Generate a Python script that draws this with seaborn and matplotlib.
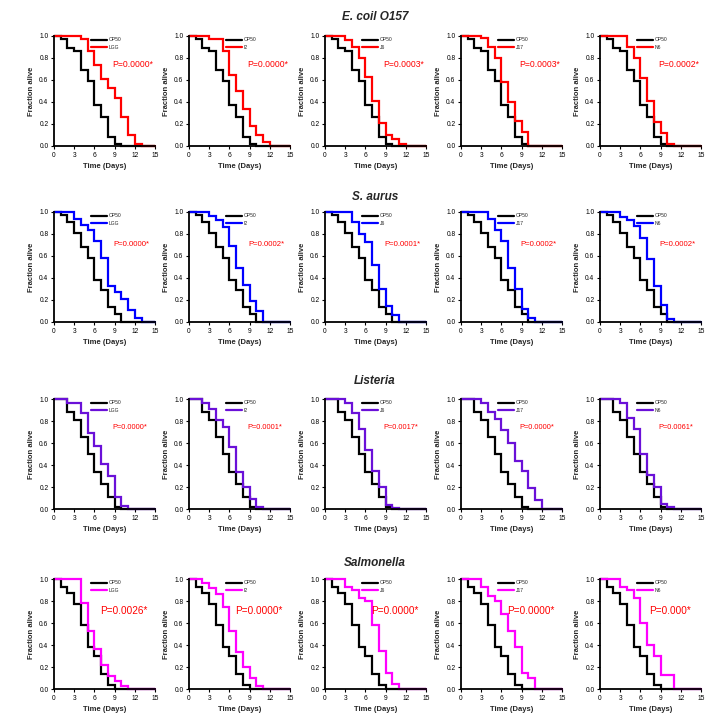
import numpy as np
import pandas as pd
import seaborn as sns
import matplotlib.pyplot as plt
from matplotlib.lines import Line2D

# ---- data (days at which survival drops, fraction alive after drop)
pathogens = ["E. coil O157", "S. aurus", "Listeria", "Salmonella"]
strains = ["LGG", "I2", "J6", "J17", "N6"]
row_colors = ["#ff0000", "#0000ff", "#6a10d8", "#ff00ff"]

op50_days = [
    [1, 2, 3, 4, 5, 6, 7, 8, 9, 10],
    [1, 2, 3, 4, 5, 6, 7, 8, 9, 10],
    [2, 3, 4, 5, 6, 7, 8, 9, 10],
    [1, 2, 3, 4, 5, 6, 7, 8, 9],
]
op50_surv = [
    [0.97, 0.89, 0.86, 0.69, 0.59, 0.37, 0.26, 0.085, 0.015, 0],
    [0.97, 0.905, 0.81, 0.68, 0.58, 0.385, 0.29, 0.14, 0.076, 0],
    [0.88, 0.81, 0.655, 0.5, 0.34, 0.23, 0.11, 0.02, 0],
    [0.93, 0.87, 0.77, 0.58, 0.38, 0.3, 0.14, 0.04, 0],
]

ecoli_days = [
    [4, 5, 6, 7, 8, 9, 10, 11, 12, 13],
    [3, 5, 6, 7, 8, 9, 10, 11, 12],
    [3, 4, 5, 6, 7, 8, 9, 10, 11, 12],
    [3, 4, 5, 6, 7, 8, 9, 10],
    [4, 5, 6, 7, 8, 9, 10, 11],
]
ecoli_surv = [
    [0.97, 0.86, 0.74, 0.61, 0.53, 0.44, 0.26, 0.1, 0.02, 0],
    [0.97, 0.86, 0.65, 0.5, 0.34, 0.18, 0.1, 0.04, 0],
    [0.96, 0.9, 0.8, 0.63, 0.41, 0.21, 0.1, 0.06, 0.015, 0],
    [0.98, 0.9, 0.8, 0.58, 0.4, 0.23, 0.13, 0],
    [0.9, 0.8, 0.62, 0.41, 0.22, 0.12, 0.015, 0],
]
saur_days = [
    [3, 4, 5, 6, 7, 8, 9, 10, 11, 12, 13],
    [3, 4, 5, 6, 7, 8, 9, 10, 11],
    [4, 5, 6, 7, 8, 9, 10, 11],
    [4, 5, 6, 7, 8, 9, 10, 11],
    [3, 4, 5, 6, 7, 8, 9, 10, 11],
]
saur_surv = [
    [0.94, 0.88, 0.84, 0.74, 0.58, 0.33, 0.27, 0.21, 0.11, 0.035, 0],
    [0.96, 0.93, 0.86, 0.69, 0.49, 0.34, 0.19, 0.1, 0],
    [0.905, 0.8, 0.73, 0.52, 0.3, 0.15, 0.06, 0],
    [0.94, 0.84, 0.74, 0.49, 0.3, 0.115, 0.035, 0],
    [0.955, 0.93, 0.87, 0.765, 0.57, 0.33, 0.155, 0.03, 0],
]
list_days = [
    [2, 4, 5, 6, 7, 8, 9, 10, 11],
    [2, 3, 4, 5, 6, 7, 8, 9, 10, 11],
    [3, 4, 5, 6, 7, 8, 9, 10, 11],
    [3, 4, 5, 6, 7, 8, 9, 10, 11, 12],
    [3, 4, 5, 6, 7, 8, 9, 10, 11],
]
list_surv = [
    [0.96, 0.87, 0.69, 0.57, 0.41, 0.3, 0.11, 0.03, 0],
    [0.96, 0.91, 0.81, 0.75, 0.56, 0.34, 0.2, 0.09, 0.02, 0],
    [0.96, 0.87, 0.73, 0.54, 0.35, 0.2, 0.035, 0.01, 0],
    [0.96, 0.88, 0.82, 0.72, 0.6, 0.44, 0.35, 0.19, 0.08, 0],
    [0.96, 0.83, 0.73, 0.5, 0.31, 0.2, 0.05, 0.015, 0],
]
salm_days = [
    [4, 5, 6, 7, 8, 9, 10, 11],
    [2, 3, 4, 5, 6, 7, 8, 9, 10, 11],
    [3, 4, 5, 6, 7, 8, 9, 10, 11],
    [3, 4, 5, 6, 7, 8, 9, 10, 11],
    [3, 4, 5, 6, 7, 8, 9, 11],
]
salm_surv = [
    [0.78, 0.53, 0.36, 0.22, 0.12, 0.07, 0.03, 0],
    [0.96, 0.92, 0.86, 0.75, 0.53, 0.34, 0.2, 0.1, 0.03, 0],
    [0.93, 0.9, 0.83, 0.8, 0.58, 0.35, 0.15, 0.05, 0],
    [0.93, 0.85, 0.8, 0.68, 0.53, 0.38, 0.15, 0.1, 0],
    [0.93, 0.9, 0.83, 0.6, 0.4, 0.3, 0.13, 0],
]
trt_days = [ecoli_days, saur_days, list_days, salm_days]
trt_surv = [ecoli_surv, saur_surv, list_surv, salm_surv]

p_values = [
    ["P=0.0000*", "P=0.0000*", "P=0.0003*", "P=0.0003*", "P=0.0002*"],
    ["P=0.0000*", "P=0.0002*", "P=0.0001*", "P=0.0002*", "P=0.0002*"],
    ["P=0.0000*", "P=0.0001*", "P=0.0017*", "P=0.0000*", "P=0.0061*"],
    ["P=0.0026*", "P=0.0000*", "P=0.0000*", "P=0.0000*", "P=0.000*"],
]

END_DAY = 15


def km_frame(days, surv, group):
    """ step curve points for one group: start at 1.0, run flat to day 15 """
    t = [0] + list(days) + [END_DAY]
    s = [1.0] + list(surv) + [surv[-1]]
    return pd.DataFrame({"day": t, "surv": s, "group": group})


sns.set_theme(style="ticks")
plt.rcParams["font.family"] = ["Liberation Sans", "DejaVu Sans"]

W, H = 716, 719
fig = plt.figure(figsize=(W / 100, H / 100), dpi=100)

col_left = [54, 189, 325, 461, 600]
row_top = [36, 212, 399, 579]
ax_w, ax_h = 101, 110
title_y = [17, 197, 381, 563]
# p-value text size / placement differs a little from row to row
p_size = [6.2, 5.6, 5.3, 7.2]
p_x = [0.78, 0.77, 0.75, 0.69]
p_y = [0.74, 0.70, 0.74, 0.71]

for r in range(4):
    fig.text(375 / W, 1 - title_y[r] / H, pathogens[r], ha="center", va="center",
             fontsize=8.5, fontweight="bold", fontstyle="italic")
    for c in range(5):
        ax = fig.add_axes([col_left[c] / W, 1 - (row_top[r] + ax_h) / H, ax_w / W, ax_h / H])
        df = pd.concat([
            km_frame(op50_days[r], op50_surv[r], "OP50"),
            km_frame(trt_days[r][c], trt_surv[r][c], strains[c]),
        ])
        sns.lineplot(data=df, x="day", y="surv", hue="group",
                     hue_order=["OP50", strains[c]],
                     palette={"OP50": "black", strains[c]: row_colors[r]},
                     drawstyle="steps-post", estimator=None, sort=False,
                     linewidth=1.6, legend=False, ax=ax)
        for ln in ax.lines:
            ln.set_clip_on(False)
            ln.set_solid_joinstyle("miter")

        ax.set_xlim(0, 15)
        ax.set_ylim(0, 1)
        ax.set_xticks([0, 3, 6, 9, 12, 15])
        ax.set_yticks([0, 0.2, 0.4, 0.6, 0.8, 1.0])
        ax.set_yticklabels(["0.0", "0.2", "0.4", "0.6", "0.8", "1.0"])
        ax.tick_params(labelsize=4.8, length=2, width=0.8, pad=2, colors="black")
        ax.set_xlabel("Time (Days)", fontsize=5.5, fontweight="bold", labelpad=3)
        ax.set_ylabel("Fraction alive", fontsize=5.5, fontweight="bold", labelpad=3)
        sns.despine(ax=ax)
        for sp in ["left", "bottom"]:
            ax.spines[sp].set_linewidth(1.3)
            ax.spines[sp].set_color("black")

        handles = [Line2D([], [], color="black", lw=1.6),
                   Line2D([], [], color=row_colors[r], lw=1.6)]
        ax.legend(handles, ["OP50", strains[c]], loc="upper left",
                  bbox_to_anchor=(0.33, 1.02), fontsize=3.6, frameon=False,
                  handlelength=3.2, handletextpad=0.4, labelspacing=0.5,
                  borderpad=0.2)

        ax.text(p_x[r], p_y[r], p_values[r][c], transform=ax.transAxes,
                ha="center", va="center", fontsize=p_size[r], color="#ff0000")

fig.savefig("out.png", dpi=100)
